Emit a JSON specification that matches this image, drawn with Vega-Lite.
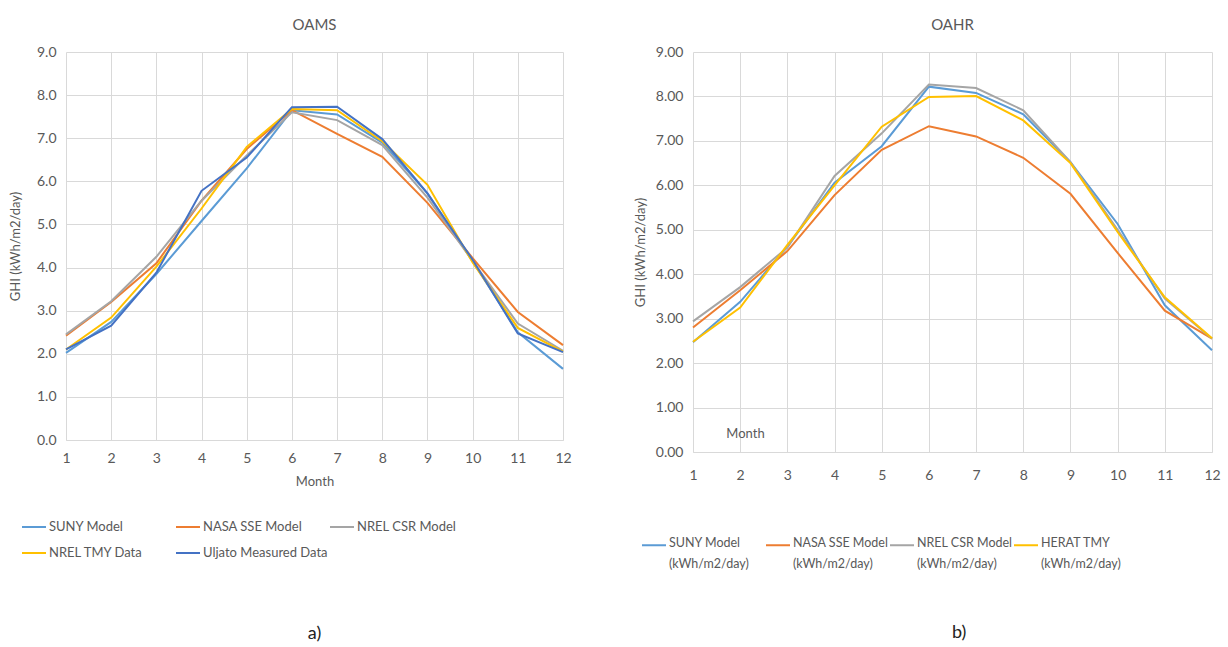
{
  "$schema": "https://vega.github.io/schema/vega-lite/v6.json",
  "background": "white",
  "padding": {"left": 9, "top": 18, "right": 4, "bottom": 4},
  "config": {
    "font": "Lato",
    "view": {"stroke": null},
    "axis": {
      "labelColor": "#595959",
      "titleColor": "#595959",
      "labelFont": "Lato",
      "titleFont": "Lato",
      "labelFontSize": 14,
      "titleFontSize": 13,
      "titleFontWeight": "normal",
      "gridColor": "#D9D9D9",
      "gridWidth": 1,
      "domainColor": "#D9D9D9",
      "ticks": false
    },
    "title": {"fontSize": 15, "fontWeight": "normal", "color": "#595959", "font": "Lato"},
    "legend": {
      "labelFont": "Lato",
      "labelFontSize": 13,
      "labelColor": "#595959",
      "symbolType": "stroke",
      "symbolSize": 576,
      "symbolStrokeWidth": 2,
      "labelLimit": 300,
      "labelOffset": 2,
      "title": null
    }
  },
  "datasets": {
    "oams": [
      {"month": 1, "series": "SUNY Model", "ghi": 2.02}, {"month": 2, "series": "SUNY Model", "ghi": 2.74}, {"month": 3, "series": "SUNY Model", "ghi": 3.85}, {"month": 4, "series": "SUNY Model", "ghi": 5.08}, {"month": 5, "series": "SUNY Model", "ghi": 6.30}, {"month": 6, "series": "SUNY Model", "ghi": 7.65}, {"month": 7, "series": "SUNY Model", "ghi": 7.55}, {"month": 8, "series": "SUNY Model", "ghi": 6.90}, {"month": 9, "series": "SUNY Model", "ghi": 5.72}, {"month": 10, "series": "SUNY Model", "ghi": 4.15}, {"month": 11, "series": "SUNY Model", "ghi": 2.50}, {"month": 12, "series": "SUNY Model", "ghi": 1.65},
      {"month": 1, "series": "NASA SSE Model", "ghi": 2.42}, {"month": 2, "series": "NASA SSE Model", "ghi": 3.20}, {"month": 3, "series": "NASA SSE Model", "ghi": 4.10}, {"month": 4, "series": "NASA SSE Model", "ghi": 5.55}, {"month": 5, "series": "NASA SSE Model", "ghi": 6.75}, {"month": 6, "series": "NASA SSE Model", "ghi": 7.65}, {"month": 7, "series": "NASA SSE Model", "ghi": 7.10}, {"month": 8, "series": "NASA SSE Model", "ghi": 6.57}, {"month": 9, "series": "NASA SSE Model", "ghi": 5.50}, {"month": 10, "series": "NASA SSE Model", "ghi": 4.22}, {"month": 11, "series": "NASA SSE Model", "ghi": 2.97}, {"month": 12, "series": "NASA SSE Model", "ghi": 2.20},
      {"month": 1, "series": "NREL CSR Model", "ghi": 2.45}, {"month": 2, "series": "NREL CSR Model", "ghi": 3.22}, {"month": 3, "series": "NREL CSR Model", "ghi": 4.25}, {"month": 4, "series": "NREL CSR Model", "ghi": 5.55}, {"month": 5, "series": "NREL CSR Model", "ghi": 6.60}, {"month": 6, "series": "NREL CSR Model", "ghi": 7.60}, {"month": 7, "series": "NREL CSR Model", "ghi": 7.42}, {"month": 8, "series": "NREL CSR Model", "ghi": 6.84}, {"month": 9, "series": "NREL CSR Model", "ghi": 5.62}, {"month": 10, "series": "NREL CSR Model", "ghi": 4.15}, {"month": 11, "series": "NREL CSR Model", "ghi": 2.70}, {"month": 12, "series": "NREL CSR Model", "ghi": 2.07},
      {"month": 1, "series": "NREL TMY Data", "ghi": 2.10}, {"month": 2, "series": "NREL TMY Data", "ghi": 2.84}, {"month": 3, "series": "NREL TMY Data", "ghi": 4.02}, {"month": 4, "series": "NREL TMY Data", "ghi": 5.37}, {"month": 5, "series": "NREL TMY Data", "ghi": 6.80}, {"month": 6, "series": "NREL TMY Data", "ghi": 7.68}, {"month": 7, "series": "NREL TMY Data", "ghi": 7.65}, {"month": 8, "series": "NREL TMY Data", "ghi": 6.93}, {"month": 9, "series": "NREL TMY Data", "ghi": 5.92}, {"month": 10, "series": "NREL TMY Data", "ghi": 4.12}, {"month": 11, "series": "NREL TMY Data", "ghi": 2.60}, {"month": 12, "series": "NREL TMY Data", "ghi": 2.05},
      {"month": 1, "series": "Uljato Measured Data", "ghi": 2.10}, {"month": 2, "series": "Uljato Measured Data", "ghi": 2.65}, {"month": 3, "series": "Uljato Measured Data", "ghi": 3.88}, {"month": 4, "series": "Uljato Measured Data", "ghi": 5.78}, {"month": 5, "series": "Uljato Measured Data", "ghi": 6.55}, {"month": 6, "series": "Uljato Measured Data", "ghi": 7.72}, {"month": 7, "series": "Uljato Measured Data", "ghi": 7.73}, {"month": 8, "series": "Uljato Measured Data", "ghi": 6.98}, {"month": 9, "series": "Uljato Measured Data", "ghi": 5.72}, {"month": 10, "series": "Uljato Measured Data", "ghi": 4.18}, {"month": 11, "series": "Uljato Measured Data", "ghi": 2.47}, {"month": 12, "series": "Uljato Measured Data", "ghi": 2.04}
    ],
    "oahr": [
      {"month": 1, "series": "SUNY Model", "ghi": 2.47}, {"month": 2, "series": "SUNY Model", "ghi": 3.38}, {"month": 3, "series": "SUNY Model", "ghi": 4.62}, {"month": 4, "series": "SUNY Model", "ghi": 6.06}, {"month": 5, "series": "SUNY Model", "ghi": 6.88}, {"month": 6, "series": "SUNY Model", "ghi": 8.22}, {"month": 7, "series": "SUNY Model", "ghi": 8.08}, {"month": 8, "series": "SUNY Model", "ghi": 7.60}, {"month": 9, "series": "SUNY Model", "ghi": 6.52}, {"month": 10, "series": "SUNY Model", "ghi": 5.13}, {"month": 11, "series": "SUNY Model", "ghi": 3.30}, {"month": 12, "series": "SUNY Model", "ghi": 2.29},
      {"month": 1, "series": "NASA SSE Model", "ghi": 2.80}, {"month": 2, "series": "NASA SSE Model", "ghi": 3.64}, {"month": 3, "series": "NASA SSE Model", "ghi": 4.52}, {"month": 4, "series": "NASA SSE Model", "ghi": 5.78}, {"month": 5, "series": "NASA SSE Model", "ghi": 6.80}, {"month": 6, "series": "NASA SSE Model", "ghi": 7.33}, {"month": 7, "series": "NASA SSE Model", "ghi": 7.10}, {"month": 8, "series": "NASA SSE Model", "ghi": 6.62}, {"month": 9, "series": "NASA SSE Model", "ghi": 5.81}, {"month": 10, "series": "NASA SSE Model", "ghi": 4.48}, {"month": 11, "series": "NASA SSE Model", "ghi": 3.18}, {"month": 12, "series": "NASA SSE Model", "ghi": 2.55},
      {"month": 1, "series": "NREL CSR Model", "ghi": 2.94}, {"month": 2, "series": "NREL CSR Model", "ghi": 3.71}, {"month": 3, "series": "NREL CSR Model", "ghi": 4.60}, {"month": 4, "series": "NREL CSR Model", "ghi": 6.21}, {"month": 5, "series": "NREL CSR Model", "ghi": 7.17}, {"month": 6, "series": "NREL CSR Model", "ghi": 8.27}, {"month": 7, "series": "NREL CSR Model", "ghi": 8.19}, {"month": 8, "series": "NREL CSR Model", "ghi": 7.69}, {"month": 9, "series": "NREL CSR Model", "ghi": 6.52}, {"month": 10, "series": "NREL CSR Model", "ghi": 5.00}, {"month": 11, "series": "NREL CSR Model", "ghi": 3.45}, {"month": 12, "series": "NREL CSR Model", "ghi": 2.55},
      {"month": 1, "series": "HERAT TMY", "ghi": 2.48}, {"month": 2, "series": "HERAT TMY", "ghi": 3.25}, {"month": 3, "series": "HERAT TMY", "ghi": 4.66}, {"month": 4, "series": "HERAT TMY", "ghi": 6.00}, {"month": 5, "series": "HERAT TMY", "ghi": 7.32}, {"month": 6, "series": "HERAT TMY", "ghi": 7.99}, {"month": 7, "series": "HERAT TMY", "ghi": 8.01}, {"month": 8, "series": "HERAT TMY", "ghi": 7.46}, {"month": 9, "series": "HERAT TMY", "ghi": 6.50}, {"month": 10, "series": "HERAT TMY", "ghi": 4.95}, {"month": 11, "series": "HERAT TMY", "ghi": 3.48}, {"month": 12, "series": "HERAT TMY", "ghi": 2.56}
    ]
  },
  "spacing": 62,
  "resolve": {"scale": {"color": "independent", "x": "independent", "y": "independent"}, "legend": {"color": "independent"}},
  "hconcat": [
    {
      "width": 497,
      "height": 388,
      "title": {"text": "OAMS", "offset": 12},
      "layer": [
        {
          "data": {"name": "oams"},
          "mark": {"type": "line", "strokeWidth": 2},
          "encoding": {
            "x": {
              "field": "month", "type": "quantitative",
              "scale": {"domain": [1, 12], "nice": false},
              "axis": {"values": [1, 2, 3, 4, 5, 6, 7, 8, 9, 10, 11, 12], "title": "Month", "labelPadding": 11, "titlePadding": 10, "labelFlush": false}
            },
            "y": {
              "field": "ghi", "type": "quantitative",
              "scale": {"domain": [0, 9], "nice": false},
              "axis": {"values": [0, 1, 2, 3, 4, 5, 6, 7, 8, 9], "format": ".1f", "title": "GHI (kWh/m2/day)", "labelPadding": 10, "domain": false, "titlePadding": 14}
            },
            "color": {
              "field": "series", "type": "nominal", "sort": null,
              "scale": {
                "domain": ["SUNY Model", "NASA SSE Model", "NREL CSR Model", "NREL TMY Data", "Uljato Measured Data"],
                "range": ["#5B9BD5", "#ED7D31", "#A5A5A5", "#FFC000", "#4472C4"]
              },
              "legend": {
                "orient": "none", "legendX": -45, "legendY": 462,
                "columns": 3, "direction": "horizontal", "gridAlign": "all",
                "columnPadding": -2, "rowPadding": 6
              }
            }
          }
        },
        {
          "data": {"values": [{}]},
          "mark": {"type": "text", "fontSize": 18, "color": "#222222", "font": "Lato"},
          "encoding": {
            "x": {"datum": 6.5, "type": "quantitative"},
            "y": {"datum": -4.5, "type": "quantitative"},
            "text": {"value": "a)"}
          }
        }
      ]
    },
    {
      "width": 519,
      "height": 400,
      "title": {"text": "OAHR", "offset": 12},
      "layer": [
        {
          "data": {"name": "oahr"},
          "mark": {"type": "line", "strokeWidth": 2},
          "encoding": {
            "x": {
              "field": "month", "type": "quantitative",
              "scale": {"domain": [1, 12], "nice": false},
              "axis": {"values": [1, 2, 3, 4, 5, 6, 7, 8, 9, 10, 11, 12], "title": "Month", "labelPadding": 16, "labelFlush": false, "titleX": 52, "titleY": -19, "titleBaseline": "middle", "titleAlign": "center"}
            },
            "y": {
              "field": "ghi", "type": "quantitative",
              "scale": {"domain": [0, 9], "nice": false},
              "axis": {"values": [0, 1, 2, 3, 4, 5, 6, 7, 8, 9], "format": ".2f", "title": "GHI (kWh/m2/day)", "labelPadding": 10, "domain": false, "titlePadding": 8}
            },
            "color": {
              "field": "series", "type": "nominal", "sort": null,
              "scale": {
                "domain": ["SUNY Model", "NASA SSE Model", "NREL CSR Model", "HERAT TMY"],
                "range": ["#5B9BD5", "#ED7D31", "#A5A5A5", "#FFC000"]
              },
              "legend": {
                "orient": "none", "legendX": -52, "legendY": 480,
                "columns": 4, "direction": "horizontal", "gridAlign": "all",
                "columnPadding": -12,
                "labelFontSize": 12.5,
                "labelBaseline": "top",
                "labelExpr": "[datum.label, '(kWh/m2/day)']",
                "encode": {"labels": {"update": {"lineHeight": {"value": 21}, "dy": {"value": -8}}}}
              }
            }
          }
        },
        {
          "data": {"values": [{}]},
          "mark": {"type": "text", "fontSize": 18, "color": "#222222", "font": "Lato"},
          "encoding": {
            "x": {"datum": 6.64, "type": "quantitative"},
            "y": {"datum": -4.08, "type": "quantitative"},
            "text": {"value": "b)"}
          }
        }
      ]
    }
  ]
}
